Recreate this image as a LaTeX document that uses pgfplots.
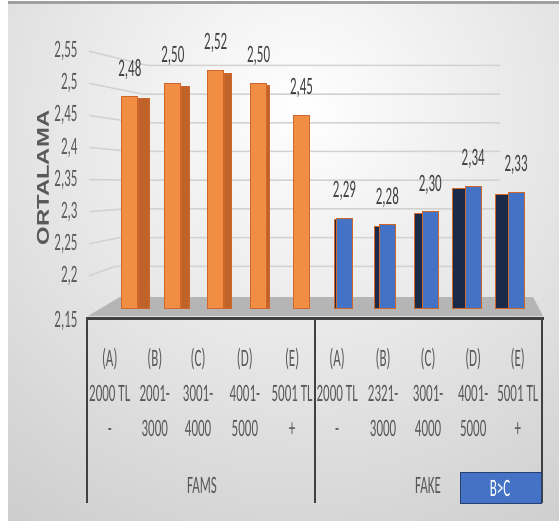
\documentclass[border=0pt]{standalone}
\usepackage{pgfplots}
\pgfplotsset{compat=1.18}
\usepackage{fontspec}
\setmainfont{Carlito}[FakeStretch=0.52]
\newfontfamily\ylabfont{Liberation Sans}[FakeStretch=1.4]
\definecolor{orF}{HTML}{F28E43}
\definecolor{orS}{HTML}{C0632A}
\definecolor{orD}{HTML}{D0672A}
\definecolor{blF}{HTML}{4472C4}
\definecolor{blS}{HTML}{1C2A4A}
\definecolor{txt}{HTML}{595959}
\definecolor{gridc}{HTML}{D2D2D2}
\definecolor{floorc}{HTML}{B5B5B5}
\definecolor{darkline}{HTML}{404040}
\pgfkeys{/pgf/number format/.cd, use comma, assume math mode=true}
\begin{document}
\begin{tikzpicture}
\useasboundingbox (0,0) rectangle (559pt,523pt);
\fill[white] (0,0) rectangle (559pt,523pt);
\begin{scope}[x=1pt,y=-1pt,yshift=523pt]
  \begin{scope}
    \clip (8,4) rectangle (559,520);
    \shade[inner color=white, outer color=gray!50] (300,110) circle (640pt);
  \end{scope}
  \draw[gray!75, line width=3pt] (8,3) -- (559,3);
  \foreach \k in {0,...,7}{
    \pgfmathsetmacro\d{0.05+0.05*\k}
    \pgfmathsetmacro\ly{308-\d*642}
    \pgfmathsetmacro\wy{295-\d*574}
    \pgfmathsetmacro\wx{115+0.05*\k/0.35*32}
    \draw[gridc, line width=1.5pt] (89,\ly) -- (\wx,\wy) -- (500,\wy);
  }
  \fill[floorc] (88,316) -- (120,297) -- (533,297) -- (543,316) -- cycle;
\end{scope}
\begin{axis}[
  at={(87pt,215pt)}, anchor=south west,
  scale only axis, width=460pt, height=278pt,
  xmin=-1, xmax=9.72, ymin=2.15, ymax=2.583,
  axis line style={draw=none}, tick style={draw=none}, major tick length=0pt,
  ytick={2.2,2.25,2.3,2.35,2.4,2.45,2.5,2.55},
  extra y ticks={2.15},
  extra y tick style={yticklabel style={yshift=-13pt}},
  yticklabel style={font=\fontsize{25}{30}\selectfont, text=txt, xshift=-6pt},
  xtick={-0.47,0.58,1.59,2.68,3.78,4.83,5.90,6.95,8.00,9.04},
  xticklabels={{(A)\\2000 TL\\-},{(B)\\2001-\\3000},{(C)\\3001-\\4000},{(D)\\4001-\\5000},{(E)\\5001 TL\\+},{(A)\\2000 TL\\-},{(B)\\2321-\\3000},{(C)\\3001-\\4000},{(D)\\4001-\\5000},{(E)\\5001 TL\\+}},
  xticklabel style={font=\fontsize{25}{35}\selectfont, text=txt, align=center, anchor=north, yshift=-37pt},
  ylabel={ORTALAMA},
  every axis y label/.style={at={(rel axis cs:-0.0957,0.4676)}, rotate=90, anchor=center, font=\ylabfont\bfseries\fontsize{17}{20}\selectfont, text=txt},
  every node near coord/.append style={font=\fontsize{25}{30}\selectfont, text=darkline, anchor=center, yshift=27pt, /pgf/number format/fixed, /pgf/number format/fixed zerofill, /pgf/number format/precision=2},
]
% orange side faces
\addplot[ybar, bar shift=0pt, bar width=11pt, fill=orS, draw=orD] coordinates {(0.315,2.476)};
\addplot[ybar, bar shift=0pt, bar width=8pt, fill=orS, draw=orD] coordinates {(1.28,2.496)};
\addplot[ybar, bar shift=0pt, bar width=7pt, fill=orS, draw=orD] coordinates {(2.268,2.516)};
\addplot[ybar, bar shift=0pt, bar width=3pt, fill=orS, draw=orD] coordinates {(3.221,2.497)};
% blue side faces
\addplot[ybar, bar shift=0pt, bar width=2pt, fill=blS, draw=orD] coordinates {(4.79,2.288)};
\addplot[ybar, bar shift=0pt, bar width=5pt, fill=blS, draw=orD] coordinates {(5.755,2.277)};
\addplot[ybar, bar shift=0pt, bar width=8pt, fill=blS, draw=orD] coordinates {(6.72,2.297)};
\addplot[ybar, bar shift=0pt, bar width=13pt, fill=blS, draw=orD] coordinates {(7.662,2.337)};
\addplot[ybar, bar shift=0pt, bar width=13pt, fill=blS, draw=orD] coordinates {(8.662,2.327)};
% front faces
\addplot[ybar, bar shift=0pt, bar width=16pt, fill=orF, draw=orD, line width=1pt, nodes near coords] coordinates {(0,2.48) (1,2.50) (2,2.52) (3,2.50) (4,2.45)};
\addplot[ybar, bar shift=0pt, bar width=16pt, fill=blF, draw=orD, line width=1pt, nodes near coords] coordinates {(5,2.29) (6,2.28) (7,2.30) (8,2.34) (9,2.33)};
\end{axis}
\begin{scope}[x=1pt,y=-1pt,yshift=523pt]
  \draw[darkline, line width=3pt] (86,318) -- (544,318);
  \draw[darkline, line width=2pt] (87,318) -- (87,503);
  \draw[darkline, line width=2pt] (315,318) -- (315,503);
  \draw[darkline, line width=2pt] (542,318) -- (542,503);
  \node[font=\fontsize{25}{30}\selectfont, text=txt] at (202,485) {FAMS};
  \node[font=\fontsize{25}{30}\selectfont, text=txt] at (428,485) {FAKE};
  \fill[blF] (460,472) rectangle (541,503);
  \draw[blS!70!blF, line width=1pt] (460,472) rectangle (541,503);
  \node[font=\fontsize{25}{30}\selectfont, text=white] at (500,488) {B>C};
\end{scope}
\end{tikzpicture}
\end{document}
